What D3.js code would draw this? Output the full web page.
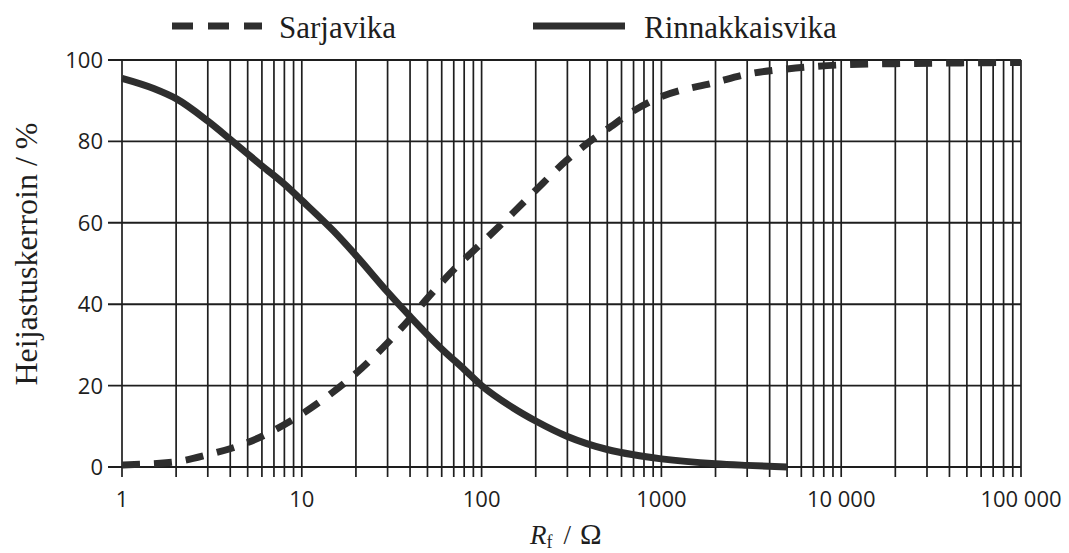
<!DOCTYPE html>
<html>
<head>
<meta charset="utf-8">
<script src="https://cdn.jsdelivr.net/npm/d3@7"></script>
<style>
  html, body { margin: 0; padding: 0; background: #fff; }
  svg { display: block; }
</style>
</head>
<body>
<svg id="chart" width="1069" height="553"></svg>
<script>
// ---- data ----
const seriesNames = ["Sarjavika", "Rinnakkaisvika"];
const sarjaR = [1, 2, 3, 5, 7, 10, 15, 20, 30, 40, 50, 70, 100, 150, 200, 300, 400, 500, 700, 1000, 2000, 3000, 5000, 10000, 20000, 50000, 100000];
const sarjaV = [0.5, 1.3, 3, 6, 9, 13, 18.5, 23, 30.5, 36.5, 41.5, 48.5, 55, 62.5, 68, 75.5, 80, 83, 87.5, 91, 94.5, 96.5, 97.8, 98.8, 99.1, 99.3, 99.4];
const rinnR = [1, 1.5, 2, 3, 4, 6, 8, 10, 15, 20, 30, 40, 60, 80, 100, 150, 200, 300, 500, 700, 1000, 2000, 3000, 5000];
const rinnV = [95.5, 93, 90.5, 85, 80.5, 74, 69.5, 65.5, 58, 52, 43, 37, 29, 24, 20, 14.5, 11.3, 7.5, 4.3, 3, 2, 0.8, 0.4, 0];
const xTickValues = [1, 10, 100, 1000, 10000, 100000];
const xTickLabels = ["1", "10", "100", "1000", "10 000", "100 000"];
const yTickValues = [0, 20, 40, 60, 80, 100];
const yTitle = "Heijastuskerroin / %";

// ---- layout ----
const svg = d3.select("#chart");
const x = d3.scaleLog().domain([1, 100000]).range([122, 1021]);
const y = d3.scaleLinear().domain([0, 100]).range([467, 60]);
const ink = "#1e1e1e";
const curveInk = "#2e2e2e";

// vertical grid: 1..9 of each decade plus 100000
const gridX = [];
for (let d = 1; d <= 10000; d *= 10) for (let k = 1; k <= 9; k++) gridX.push(k * d);
gridX.push(100000);

svg.append("g").selectAll("line").data(gridX).join("line")
  .attr("x1", d => x(d)).attr("x2", d => x(d))
  .attr("y1", y(100)).attr("y2", y(0) + 10)
  .attr("stroke", ink).attr("stroke-width", 1.7);

svg.append("g").selectAll("line").data(yTickValues).join("line")
  .attr("x1", x(1) - 14).attr("x2", x(100000))
  .attr("y1", d => y(d)).attr("y2", d => y(d))
  .attr("stroke", ink).attr("stroke-width", 1.9);

// tick labels
svg.append("g").selectAll("text").data(yTickValues).join("text")
  .attr("x", 103).attr("y", d => y(d)).attr("dy", "0.36em")
  .attr("text-anchor", "end")
  .style("font-family", "'Open Sans', sans-serif").style("font-size", "22px")
  .attr("fill", ink).text(d => d);

svg.append("g").selectAll("text").data(xTickValues).join("text")
  .attr("x", d => x(d)).attr("y", 507)
  .attr("text-anchor", "middle")
  .style("font-family", "'Open Sans', sans-serif").style("font-size", "22px")
  .attr("fill", ink).text((d, i) => xTickLabels[i]);

// curves
const line = d3.line().x(d => x(d[0])).y(d => y(d[1])).curve(d3.curveMonotoneX);
svg.append("path").datum(sarjaR.map((r, i) => [r, sarjaV[i]]))
  .attr("d", line).attr("fill", "none").attr("stroke", curveInk)
  .attr("stroke-width", 7).attr("stroke-dasharray", "18,14");
svg.append("path").datum(rinnR.map((r, i) => [r, rinnV[i]]))
  .attr("d", line).attr("fill", "none").attr("stroke", curveInk)
  .attr("stroke-width", 7);

// legend
const serif = "'Liberation Serif', 'Times New Roman', serif";
svg.append("line").attr("x1", 172).attr("x2", 262).attr("y1", 26).attr("y2", 26)
  .attr("stroke", curveInk).attr("stroke-width", 7).attr("stroke-dasharray", "21,15");
svg.append("text").attr("x", 279).attr("y", 38).style("font-family", serif)
  .style("font-size", "31px").attr("fill", ink).text(seriesNames[0]);
svg.append("line").attr("x1", 533).attr("x2", 625).attr("y1", 26).attr("y2", 26)
  .attr("stroke", curveInk).attr("stroke-width", 7);
svg.append("text").attr("x", 644).attr("y", 38).style("font-family", serif)
  .style("font-size", "31px").attr("fill", ink).text(seriesNames[1]);

// y title
svg.append("text").attr("transform", "translate(37,254) rotate(-90)")
  .attr("text-anchor", "middle").style("font-family", serif)
  .style("font-size", "32px").attr("fill", ink).text(yTitle);

// x title
const xt = svg.append("text").attr("x", 530).attr("y", 544)
  .style("font-family", serif).style("font-size", "27px").attr("fill", ink);
xt.append("tspan").style("font-style", "italic").text("R");
xt.append("tspan").attr("dy", 4).style("font-size", "18px").text("f");
xt.append("tspan").attr("dy", -4).attr("dx", 11).text("/");
xt.append("tspan").attr("dx", 9).style("font-size", "29px").text("Ω");
</script>
</body>
</html>
